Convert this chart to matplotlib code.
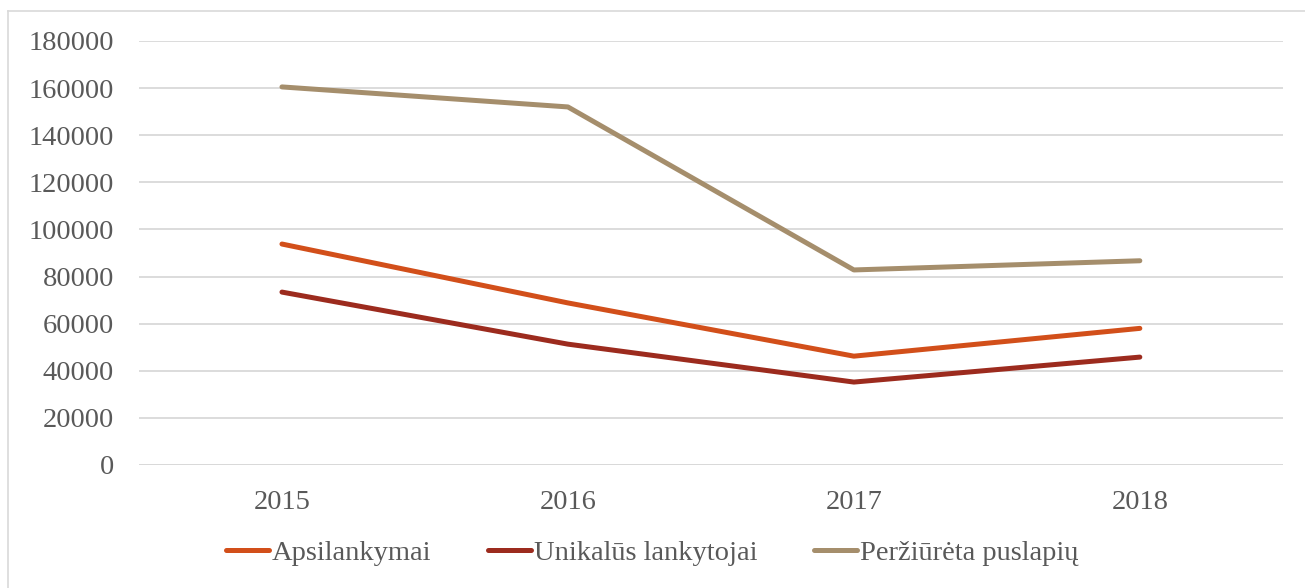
import matplotlib.pyplot as plt
from matplotlib.lines import Line2D

plt.rcParams['font.family'] = ['Liberation Serif', 'DejaVu Serif']

metai = ["2015", "2016", "2017", "2018"]
apsilankymai = [93800, 68800, 46200, 58000]
unikalus = [73400, 51300, 35200, 45800]
perziureta = [160500, 152000, 82800, 86700]

fig = plt.figure(figsize=(13.05, 5.88), dpi=100)
ax = fig.add_axes([0.1065, 0.2092, 0.8765, 0.7211])

x = range(len(metai))
ax.plot(x, apsilankymai, color='#D24F1A', lw=3.6, solid_capstyle='round', label='Apsilankymai')
ax.plot(x, unikalus, color='#9C2B1E', lw=3.6, solid_capstyle='round', label='Unikalūs lankytojai')
ax.plot(x, perziureta, color='#A58E6C', lw=3.6, solid_capstyle='round', label='Peržiūrėta puslapių')

ax.set_xlim(-0.5, 3.5)
ax.set_ylim(0, 180000)
ax.set_yticks(range(0, 180001, 20000))
ax.set_xticks(list(x))
ax.set_xticklabels(metai)
ax.tick_params(length=0, labelsize=20.5, colors='#595959')
ax.tick_params(axis='y', pad=18)
ax.tick_params(axis='x', pad=18)
ax.grid(axis='y', color='#D9D9D9', lw=1.3)
ax.set_axisbelow(True)
for s in ax.spines.values():
    s.set_visible(False)
ax.axhline(0, color='#D9D9D9', lw=1.3, zorder=1)

ax.legend(loc='center', bbox_to_anchor=(0.5, 0.06), bbox_transform=fig.transFigure,
          ncol=3, frameon=False, fontsize=20.5, labelcolor='#595959',
          handlelength=1.5, handletextpad=0.1, columnspacing=2.0)

# ramelis aplink
fig.add_artist(Line2D([8/1305, 8/1305], [0, 1 - 11/588], transform=fig.transFigure, color='#D9D9D9', lw=1.2))
fig.add_artist(Line2D([8/1305, 1], [1 - 11/588, 1 - 11/588], transform=fig.transFigure, color='#D9D9D9', lw=1.2))

fig.savefig('out.png', dpi=100)
